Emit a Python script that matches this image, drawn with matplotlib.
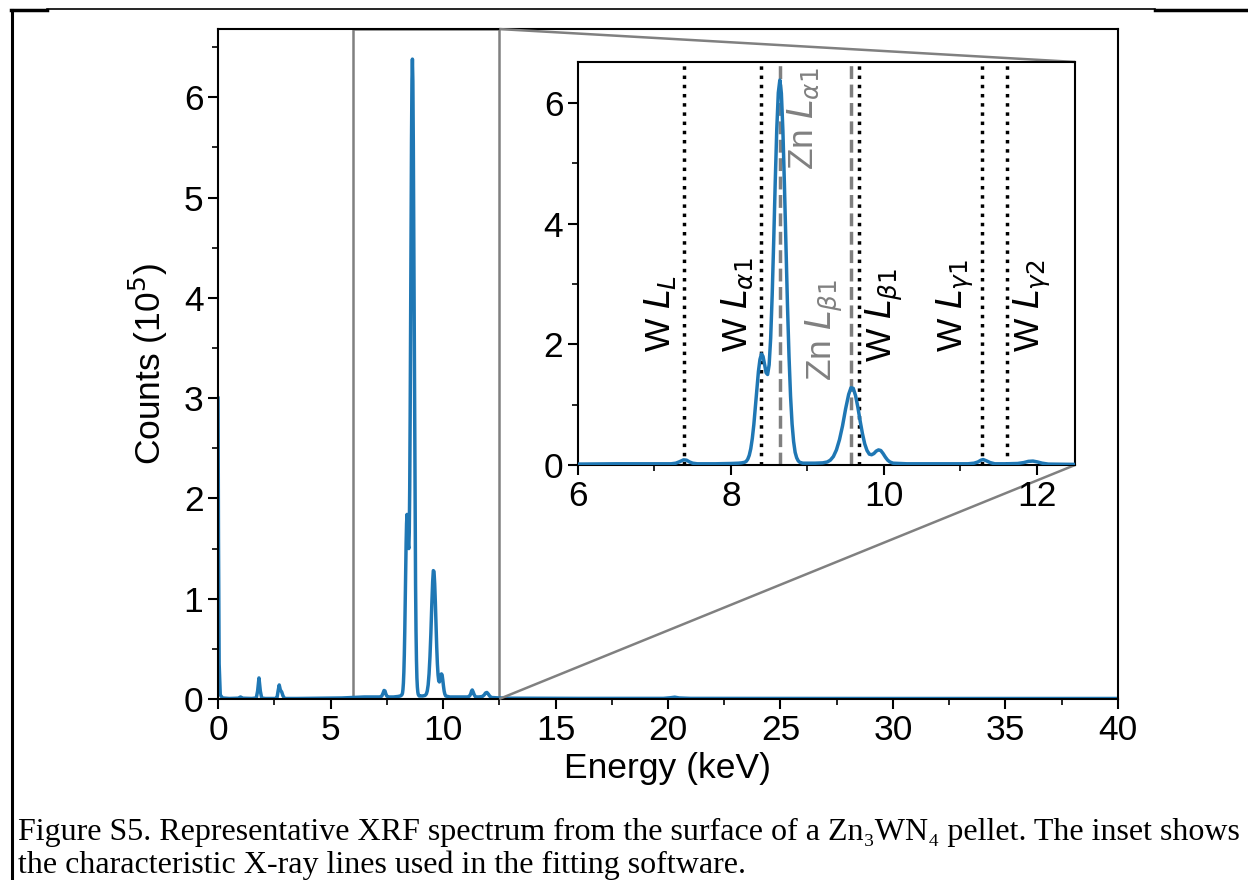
import matplotlib
matplotlib.use("Agg")
import matplotlib.pyplot as plt
from matplotlib.lines import Line2D
from matplotlib.ticker import MultipleLocator
from mpl_toolkits.axes_grid1.inset_locator import mark_inset

plt.rcParams['font.family'] = ['Liberation Sans', 'DejaVu Sans']
plt.rcParams['mathtext.fontset'] = 'dejavusans'

# spectrum (counts in units of 1e5)
energy = [0.00, 0.02, 0.05, 0.10, 0.20, 0.50, 0.90, 1.00, 1.10, 1.50,
          1.70, 1.76, 1.82, 1.88, 1.94, 2.10, 2.55, 2.62, 2.67, 2.72,
          2.77, 2.83, 2.89, 2.96, 3.50, 4.50, 5.50, 6.00, 6.50, 7.00,
          7.22, 7.28, 7.33, 7.38, 7.42, 7.46, 7.50, 7.56, 7.80, 8.00,
          8.10, 8.14, 8.18, 8.20, 8.22, 8.24, 8.26, 8.28, 8.30, 8.32,
          8.34, 8.36, 8.38, 8.40, 8.42, 8.44, 8.46, 8.48, 8.50, 8.52,
          8.54, 8.56, 8.58, 8.60, 8.62, 8.64, 8.66, 8.68, 8.70, 8.72,
          8.74, 8.76, 8.78, 8.80, 8.82, 8.84, 8.86, 8.88, 8.90, 8.94,
          9.10, 9.20, 9.26, 9.30, 9.34, 9.38, 9.42, 9.46, 9.50, 9.54,
          9.57, 9.60, 9.63, 9.66, 9.69, 9.72, 9.75, 9.78, 9.81, 9.84,
          9.87, 9.90, 9.93, 9.96, 9.99, 10.02, 10.05, 10.08, 10.12, 10.30,
          10.80, 11.10, 11.18, 11.23, 11.27, 11.30, 11.34, 11.39, 11.45, 11.60,
          11.75, 11.83, 11.89, 11.95, 12.01, 12.07, 12.15, 12.50, 13.00, 16.00,
          19.80, 20.10, 20.30, 20.50, 21.00, 30.00, 40.00]
counts = [3.00, 1.60, 0.35, 0.04, 0.01, 0.005, 0.008, 0.02, 0.008, 0.005,
          0.01, 0.08, 0.21, 0.08, 0.01, 0.005, 0.005, 0.01, 0.08, 0.14,
          0.09, 0.07, 0.03, 0.005, 0.005, 0.008, 0.01, 0.015, 0.02, 0.02,
          0.02, 0.03, 0.055, 0.085, 0.08, 0.05, 0.03, 0.02, 0.02, 0.025,
          0.03, 0.035, 0.045, 0.06, 0.095, 0.16, 0.27, 0.44, 0.67, 0.96,
          1.26, 1.55, 1.75, 1.84, 1.80, 1.67, 1.53, 1.50, 1.66, 2.10,
          2.82, 3.72, 4.70, 5.57, 6.17, 6.38, 6.16, 5.54, 4.64, 3.62,
          2.64, 1.80, 1.14, 0.68, 0.39, 0.21, 0.12, 0.07, 0.045, 0.03,
          0.03, 0.035, 0.05, 0.08, 0.14, 0.25, 0.42, 0.65, 0.93, 1.17,
          1.28, 1.27, 1.15, 0.96, 0.73, 0.52, 0.35, 0.24, 0.18, 0.17,
          0.19, 0.23, 0.25, 0.24, 0.19, 0.13, 0.08, 0.05, 0.03, 0.02,
          0.02, 0.02, 0.03, 0.05, 0.08, 0.09, 0.07, 0.04, 0.02, 0.02,
          0.025, 0.04, 0.06, 0.065, 0.05, 0.03, 0.015, 0.01, 0.008, 0.006,
          0.006, 0.012, 0.018, 0.01, 0.006, 0.005, 0.005]

# characteristic lines (keV)
w_lines = [7.387, 8.398, 9.672, 11.285, 11.608]
w_labels = ['W $L_L$', 'W $L_{\\alpha1}$', 'W $L_{\\beta1}$',
            'W $L_{\\gamma1}$', 'W $L_{\\gamma2}$']
zn_lines = [8.639, 9.572]
zn_labels = ['Zn $L_{\\alpha1}$', 'Zn $L_{\\beta1}$']

caption1 = ('Figure S5. Representative XRF spectrum from the surface of a '
            'Zn\u2083WN\u2084 pellet. The inset shows')
caption2 = 'the characteristic X-ray lines used in the fitting software.'

fs = 25.5
ymax = 6.68

fig = plt.figure(figsize=(12.48, 8.8), dpi=100)

ax = fig.add_axes([0.1747, 0.2057, 0.7211, 0.7613])
ax.plot(energy, counts, color='#1f77b4', lw=2.5)
ax.set_xlim(0, 40)
ax.set_ylim(0, ymax)
ax.xaxis.set_major_locator(MultipleLocator(5))
ax.xaxis.set_minor_locator(MultipleLocator(2.5))
ax.yaxis.set_major_locator(MultipleLocator(1))
ax.yaxis.set_minor_locator(MultipleLocator(0.5))
ax.set_xlabel('Energy (keV)', fontsize=fs, labelpad=4)
ax.set_ylabel('Counts (10$^5$)', fontsize=fs, labelpad=10)

axins = fig.add_axes([0.4631, 0.4716, 0.3983, 0.4580])
axins.plot(energy, counts, color='#1f77b4', lw=2.5, zorder=3)
axins.set_xlim(6, 12.5)
axins.set_ylim(0, ymax)
axins.xaxis.set_major_locator(MultipleLocator(2))
axins.xaxis.set_minor_locator(MultipleLocator(1))
axins.yaxis.set_major_locator(MultipleLocator(2))
axins.yaxis.set_minor_locator(MultipleLocator(1))

for a in (ax, axins):
    a.tick_params(which='major', labelsize=fs, length=7, width=1.5)
    a.tick_params(which='minor', length=4, width=1.2)
    for s in a.spines.values():
        s.set_linewidth(1.5)

# marker lines + labels (side, bottom y of label)
w_place = [('l', 1.87), ('l', 1.87), ('r', 1.70), ('l', 1.87), ('r', 1.87)]
zn_place = [('r', 4.89), ('l', 1.40)]

for x, lab, (side, yb) in zip(w_lines, w_labels, w_place):
    axins.axvline(x, color='k', ls=':', lw=2.5, zorder=2)
    dx = -0.08 if side == 'l' else 0.07
    axins.text(x + dx, yb, lab, rotation=90, fontsize=fs, color='k',
               ha='right' if side == 'l' else 'left', va='bottom')
for x, lab, (side, yb) in zip(zn_lines, zn_labels, zn_place):
    axins.axvline(x, color='gray', ls='--', lw=2.5, zorder=2)
    dx = -0.08 if side == 'l' else 0.08
    axins.text(x + dx, yb, lab, rotation=90, fontsize=fs, color='gray',
               ha='right' if side == 'l' else 'left', va='bottom')

mark_inset(ax, axins, loc1=1, loc2=4, fc='none', ec='gray', lw=1.8)

# page frame
W, H = 1248.0, 880.0
fig.add_artist(Line2D([12 / W, 12 / W], [1 - 10 / H, 0], color='k', lw=2.2))
fig.add_artist(Line2D([11 / W, 47 / W], [1 - 10 / H, 1 - 10 / H], color='k', lw=2.5))
fig.add_artist(Line2D([47 / W, 1155 / W], [1 - 9.5 / H, 1 - 9.5 / H], color='k', lw=1.2))
fig.add_artist(Line2D([1155 / W, 1.0], [1 - 10 / H, 1 - 10 / H], color='k', lw=2.5))

# caption
fig.text(18 / W, 1 - 840 / H, caption1, fontsize=23,
         family=['Liberation Serif', 'DejaVu Serif'], ha='left', va='baseline')
fig.text(18 / W, 1 - 873 / H, caption2, fontsize=23,
         family=['Liberation Serif', 'DejaVu Serif'], ha='left', va='baseline')

fig.savefig('out.png', dpi=100)
